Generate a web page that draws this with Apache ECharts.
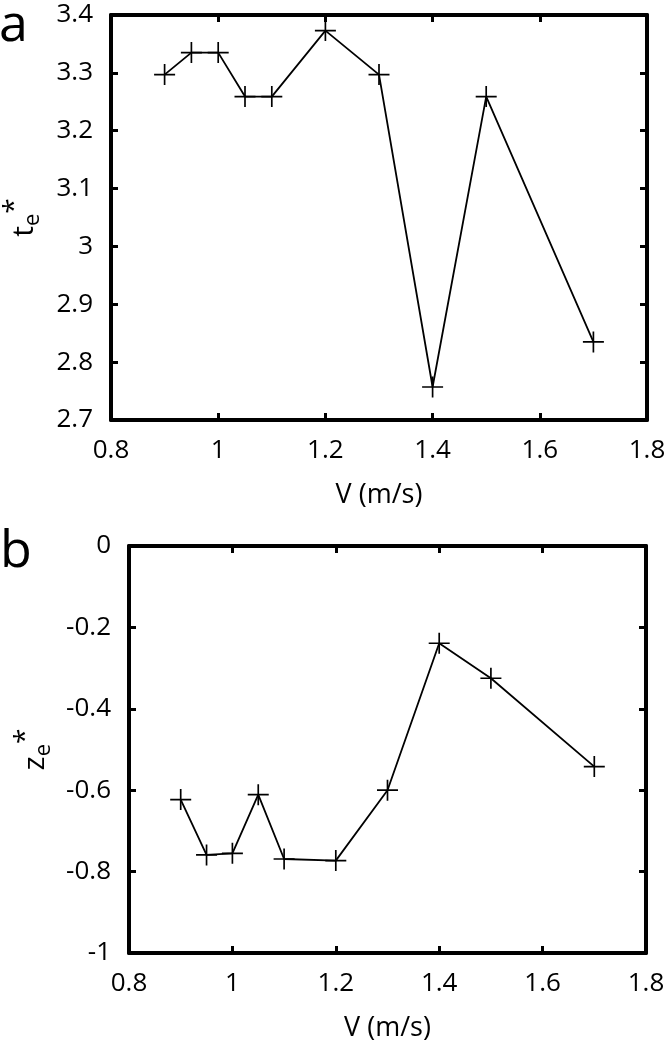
<!DOCTYPE html>
<html>
<head>
<meta charset="utf-8">
<script src="https://cdn.jsdelivr.net/npm/echarts@6/dist/echarts.min.js"></script>
<style>
  html, body { margin: 0; padding: 0; background: #fff; }
  #main { width: 664px; height: 1045px; }
</style>
</head>
<body>
<div id="main"></div>
<script>
  // speed values (m/s)
  const speeds = [0.9, 0.95, 1.0, 1.05, 1.1, 1.2, 1.3, 1.4, 1.5, 1.7];
  // panel a: t_e*
  const teStar = [3.297, 3.335, 3.335, 3.259, 3.259, 3.373, 3.297, 2.757, 3.259, 2.835];
  // panel b: z_e*
  const zeStar = [-0.623, -0.759, -0.755, -0.611, -0.769, -0.773, -0.600, -0.239, -0.325, -0.542];

  const font = 'Open Sans';
  const plus = 'path://M0,18.4 H40 V21.6 H0 Z M18.4,0 H21.6 V40 H18.4 Z';

  function pairs(xs, ys) {
    return xs.map(function (x, i) { return [x, ys[i]]; });
  }

  function xAx(grid, pos, showName) {
    return {
      type: 'value', gridIndex: grid, position: pos,
      min: 0.8, max: 1.8, interval: 0.2,
      name: showName ? 'V (m/s)' : '', nameLocation: 'middle', nameGap: 62,
      nameTextStyle: { fontFamily: font, fontSize: 27, color: '#000' },
      axisLine: { onZero: false, lineStyle: { color: '#000', width: 4 } },
      axisTick: { inside: true, length: 7, lineStyle: { color: '#000', width: 3 } },
      axisLabel: { show: pos === 'bottom', margin: 18, fontFamily: font, fontSize: 26, color: '#000' },
      splitLine: { show: false }
    };
  }

  function yAx(grid, pos, min, max, name) {
    return {
      type: 'value', gridIndex: grid, position: pos,
      min: min, max: max, interval: min < 0 ? 0.2 : 0.1,
      name: name || '', nameLocation: 'middle', nameGap: 64, nameRotate: 90,
      nameTextStyle: {
        fontFamily: font, color: '#000',
        rich: {
          b: { fontFamily: font, fontSize: 30, color: '#000' },
          s: { fontFamily: font, fontSize: 22, color: '#000', padding: [18, 0, 0, 0] },
          p: { fontFamily: font, fontSize: 28, color: '#000', padding: [0, 0, 18, 0] }
        }
      },
      axisLine: { onZero: false, lineStyle: { color: '#000', width: 4 } },
      axisTick: { inside: true, length: 7, lineStyle: { color: '#000', width: 3 } },
      axisLabel: { show: pos === 'left', margin: 18, fontFamily: font, fontSize: 26, color: '#000' },
      splitLine: { show: false }
    };
  }

  function lineSeries(xi, yi, data) {
    return {
      type: 'line', xAxisIndex: xi, yAxisIndex: yi, data: data,
      symbol: plus, symbolSize: 21, showSymbol: true,
      lineStyle: { color: '#000', width: 1.8 },
      itemStyle: { color: '#000' },
      animation: false
    };
  }

  const chart = echarts.init(document.getElementById('main'));
  chart.setOption({
    backgroundColor: '#fff',
    animation: false,
    grid: [
      { left: 111, top: 15, right: 17, height: 405, outerBoundsMode: 'none', containLabel: false },
      { left: 129, top: 546, right: 18, height: 407, outerBoundsMode: 'none', containLabel: false }
    ],
    xAxis: [
      xAx(0, 'bottom', true), xAx(0, 'top', false),
      xAx(1, 'bottom', true), xAx(1, 'top', false)
    ],
    yAxis: [
      yAx(0, 'left', 2.7, 3.4, '{b|t}{s|e}{p|*}'), yAx(0, 'right', 2.7, 3.4),
      yAx(1, 'left', -1, 0, '{b|z}{s|e}{p|*}'), yAx(1, 'right', -1, 0)
    ],
    series: [
      lineSeries(0, 0, pairs(speeds, teStar)),
      lineSeries(2, 2, pairs(speeds, zeStar))
    ],
    graphic: [
      { type: 'text', left: -1, top: 0, style: { text: 'a', fontFamily: font, fontSize: 52, fill: '#000' } },
      { type: 'text', left: 0, top: 526, style: { text: 'b', fontFamily: font, fontSize: 52, fill: '#000' } }
    ]
  });
</script>
</body>
</html>
